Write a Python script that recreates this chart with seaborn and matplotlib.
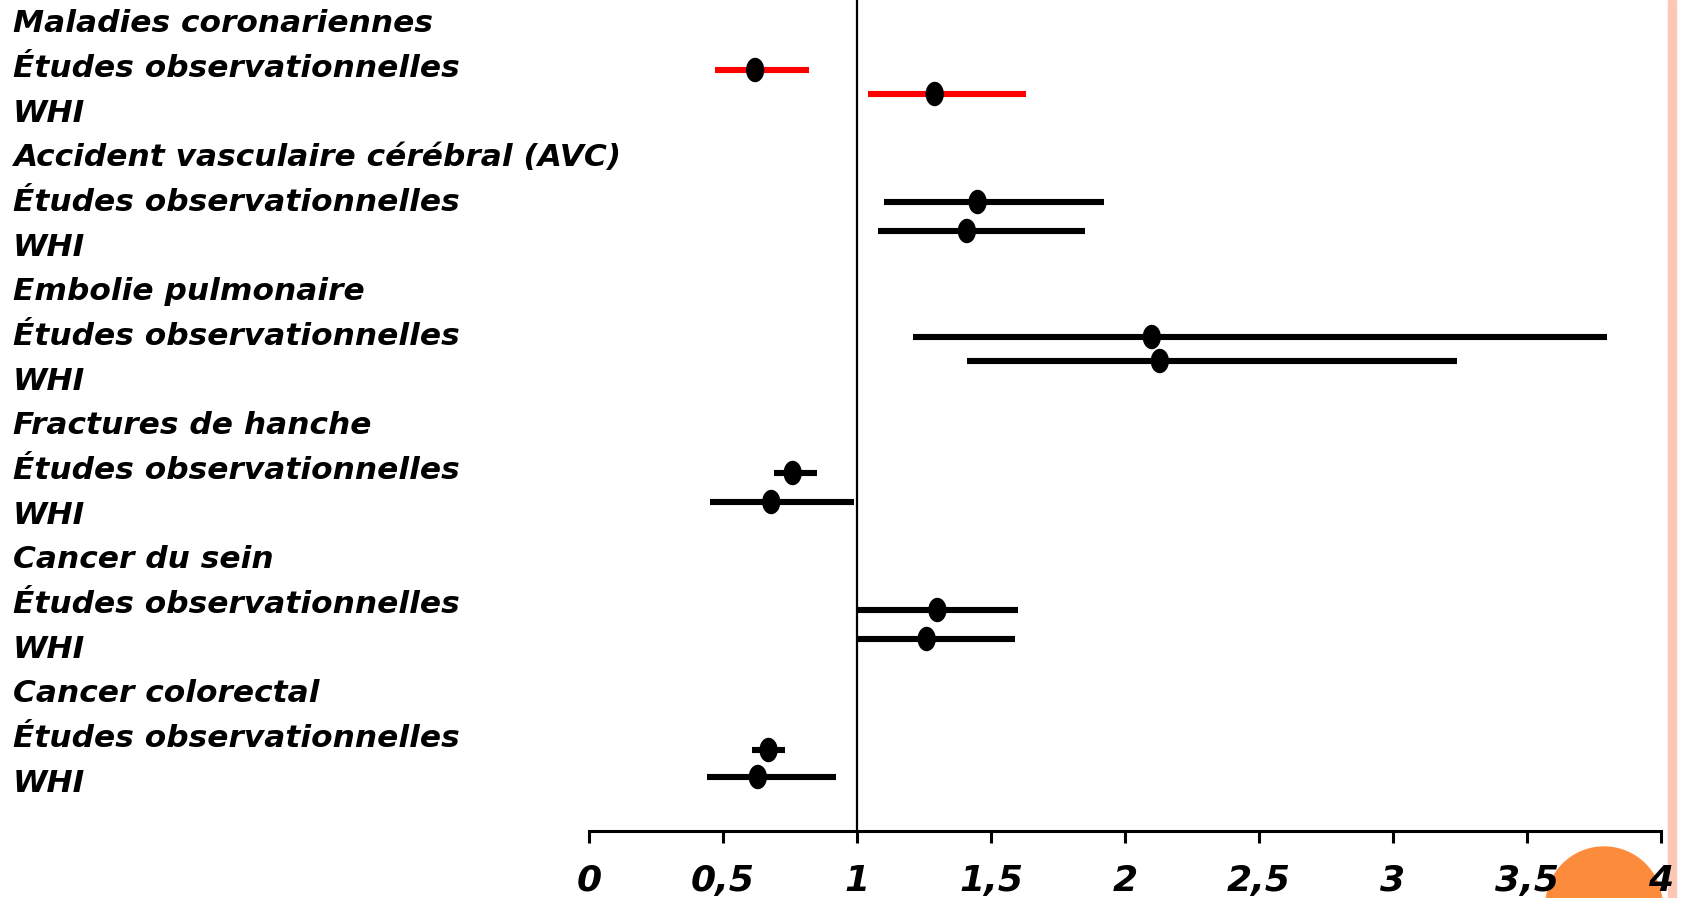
import numpy as np
import pandas as pd
import seaborn as sns
import matplotlib
matplotlib.use("Agg")
import matplotlib.pyplot as plt
from matplotlib.path import Path
from matplotlib.transforms import Affine2D, blended_transform_factory
from matplotlib.patches import Ellipse, Rectangle

# ---------------- data ----------------
outcomes = ["Maladies coronariennes", "Accident vasculaire cérébral (AVC)",
            "Embolie pulmonaire", "Fractures de hanche", "Cancer du sein",
            "Cancer colorectal"]
sources = ["Études observationnelles", "WHI"]

obs_rr = [0.62, 1.45, 2.10, 0.76, 1.30, 0.67]
obs_lo = [0.47, 1.10, 1.21, 0.69, 1.00, 0.61]
obs_hi = [0.82, 1.92, 3.80, 0.85, 1.60, 0.73]

whi_rr = [1.29, 1.41, 2.13, 0.68, 1.26, 0.63]
whi_lo = [1.04, 1.08, 1.41, 0.45, 1.00, 0.44]
whi_hi = [1.63, 1.85, 3.24, 0.99, 1.59, 0.92]

bar_colors = ["#ff0000", "black", "black", "black", "black", "black"]

xticks = [0, 0.5, 1, 1.5, 2, 2.5, 3, 3.5, 4]
xtick_labels = ["0", "0,5", "1", "1,5", "2", "2,5", "3", "3,5", "4"]

# ---------------- layout (pixel rows from top) ----------------
W, H = 1683, 898
axis_y = 831
label_y0, label_pitch = 24, 44.65
obs_y = [70, 202, 337, 473, 610, 750]
whi_y = [94, 231, 361, 502, 639, 777]

rows = []
for i, o in enumerate(outcomes):
    rows.append(dict(outcome=o, source=sources[0], rr=obs_rr[i], lo=obs_lo[i],
                     hi=obs_hi[i], y=obs_y[i], color=bar_colors[i]))
    rows.append(dict(outcome=o, source=sources[1], rr=whi_rr[i], lo=whi_lo[i],
                     hi=whi_hi[i], y=whi_y[i], color=bar_colors[i]))
df = pd.DataFrame(rows)

sns.set_theme(style="white")
plt.rcParams["font.family"] = ["DejaVu Sans"]
plt.rcParams["text.color"] = "black"

fig = plt.figure(figsize=(W / 100, H / 100), dpi=100)
fig.patch.set_facecolor("white")
x0_px, x4_px = 589, 1661
ax = fig.add_axes([x0_px / W, (H - axis_y) / H, (x4_px - x0_px) / W, axis_y / H])
ax.patch.set_visible(False)
ax.set_xlim(0, 4)
ax.set_ylim(axis_y, 0)

# reference line at RR = 1
ax.axvline(1, color="black", lw=1.6, zorder=1)

# confidence intervals
ax.hlines(df["y"], df["lo"], df["hi"], colors=df["color"], lw=4.4,
          capstyle="butt", zorder=2)

# oval markers
circ = Path.unit_circle()
oval = Path(Affine2D().scale(0.75, 1.0).transform(circ.vertices), circ.codes)
sns.scatterplot(data=df, x="rr", y="y", ax=ax, marker=oval, s=310,
                color="black", edgecolor="none", zorder=3, legend=False)

# axes styling
for side in ["left", "top", "right"]:
    ax.spines[side].set_visible(False)
ax.spines["bottom"].set_linewidth(2.2)
ax.spines["bottom"].set_color("black")
ax.set_yticks([])
ax.set_xticks(xticks)
ax.set_xticklabels(xtick_labels, fontsize=26, fontweight="bold", fontstyle="italic")
ax.tick_params(axis="x", direction="out", length=8.5, width=2.2, color="black",
               labelcolor="black", pad=15, bottom=True)
ax.set_xlabel("")
ax.set_ylabel("")

# row labels
trans = blended_transform_factory(fig.transFigure, ax.transData)
labels = []
for o in outcomes:
    labels += [o] + sources
for i, lab in enumerate(labels):
    ax.text(13 / W, label_y0 + label_pitch * i, lab, transform=trans,
            ha="left", va="center", fontsize=22.5, fontweight="bold",
            fontstyle="italic", color="black", clip_on=False)

# decorative elements
fig.patches.append(Rectangle((1668 / W, 0), 8 / W, 1, transform=fig.transFigure,
                             color="#fcc8b5", zorder=-2))
fig.patches.append(Ellipse((1604 / W, 1 - 905 / H), 116 / W, 116 / H,
                           transform=fig.transFigure, color="#fd8b3c", zorder=-1))

fig.savefig("out.png", dpi=100, facecolor="white")
